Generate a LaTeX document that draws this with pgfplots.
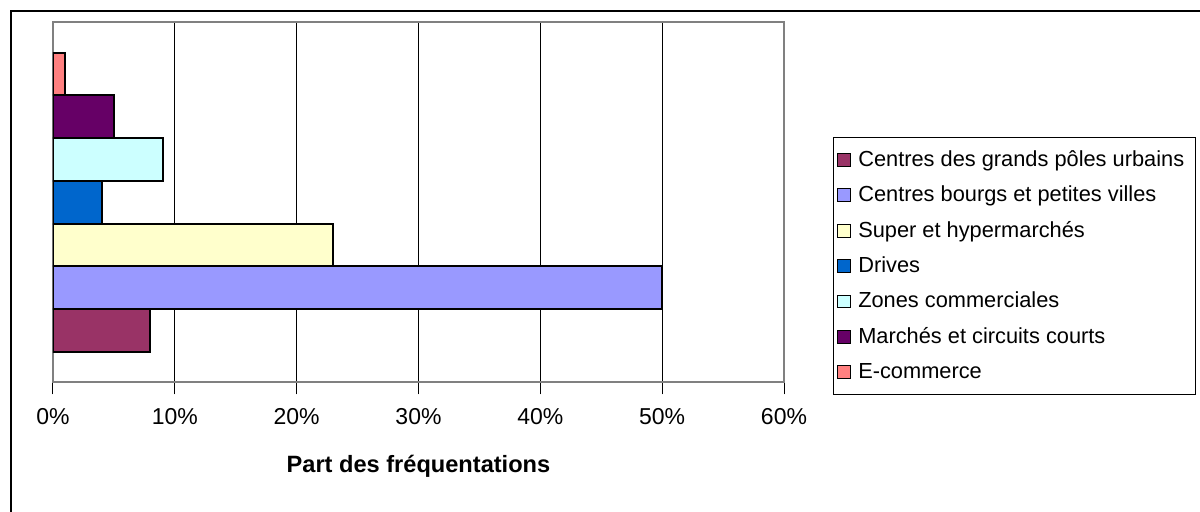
\documentclass[border=0pt]{standalone}
\usepackage{pgfplots}
\pgfplotsset{compat=1.18}
\usepackage{fontspec}
\setmainfont{Liberation Sans}
\definecolor{cA}{HTML}{993366}
\definecolor{cB}{HTML}{9999FF}
\definecolor{cC}{HTML}{FFFFCC}
\definecolor{cD}{HTML}{0066CC}
\definecolor{cE}{HTML}{CCFFFF}
\definecolor{cF}{HTML}{660066}
\definecolor{cG}{HTML}{FF8080}
\begin{document}
\fontsize{10.9}{13}\selectfont
\begin{tikzpicture}
\useasboundingbox (0,0) rectangle (600pt,256pt);
\draw[line width=1pt] (5.5pt,0) -- (5.5pt,250.5pt) -- (600pt,250.5pt);
\begin{axis}[
  at={(26.5pt,64.75pt)}, anchor=south west,
  scale only axis, width=365.5pt, height=180.25pt,
  xbar, bar shift=0pt, bar width=1,
  xmin=0, xmax=60, ymin=-1.22, ymax=7.22,
  xtick={0,10,20,30,40,50,60},
  xticklabels={0\%,10\%,20\%,30\%,40\%,50\%,60\%},
  ytick=\empty,
  xmajorgrids, grid style={black, line width=0.5pt},
  axis line style={draw=gray, line width=1pt},
  tick align=outside, xtick pos=bottom, major tick length=6pt,
  tick style={black, line width=0.5pt},
  /pgf/number format/assume math mode=true,
  xticklabel style={font=\fontsize{11.5}{13}\selectfont, anchor=base, yshift=-15.1pt},
  xlabel={Part des fréquentations},
  xlabel style={font=\bfseries\fontsize{11.8}{14}\selectfont, at={(axis description cs:0.5,0)}, anchor=base, yshift=-45.25pt},
  legend style={at={(1.067,0.682)}, anchor=north west, draw=black, line width=0.5pt,
    inner xsep=2pt, inner ysep=2.5pt, row sep=0pt,
    nodes={inner xsep=3.5pt, inner ysep=0pt, minimum height=17.7pt},
    font=\fontsize{10.9}{13}\selectfont},
  legend cell align=left,
  legend image code/.code={\draw[#1, draw=black, line width=0.5pt] (0pt,-3.2pt) rectangle (6.4pt,3.2pt);},
]
\addplot[fill=cA, draw=black, line width=1pt] coordinates {(8,0)};
\addplot[fill=cB, draw=black, line width=1pt] coordinates {(50,1)};
\addplot[fill=cC, draw=black, line width=1pt] coordinates {(23,2)};
\addplot[fill=cD, draw=black, line width=1pt] coordinates {(4,3)};
\addplot[fill=cE, draw=black, line width=1pt] coordinates {(9,4)};
\addplot[fill=cF, draw=black, line width=1pt] coordinates {(5,5)};
\addplot[fill=cG, draw=black, line width=1pt] coordinates {(1,6)};
\legend{Centres des grands pôles urbains, Centres bourgs et petites villes, Super et hypermarchés, Drives, Zones commerciales, Marchés et circuits courts, E-commerce}
\end{axis}
\end{tikzpicture}
\end{document}
